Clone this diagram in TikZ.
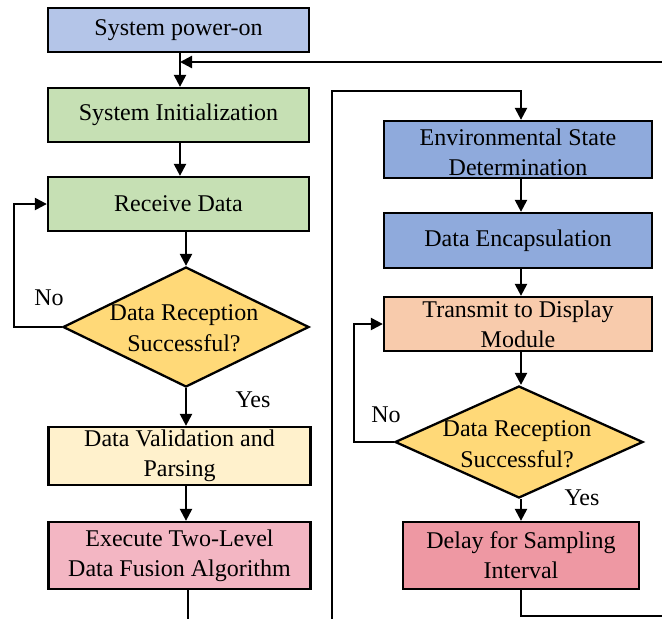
\documentclass[tikz,border=0pt]{standalone}
\usepackage{fontspec}
\setmainfont{Liberation Serif}
\usetikzlibrary{shapes.geometric,arrows.meta}

\definecolor{cPower}{HTML}{B4C5E8}
\definecolor{cGreen}{HTML}{C6E0B4}
\definecolor{cDecide}{HTML}{FFD978}
\definecolor{cCheck}{HTML}{FFF1CC}
\definecolor{cFuse}{HTML}{F3B6C3}
\definecolor{cEnv}{HTML}{8FAADC}
\definecolor{cSend}{HTML}{F8CBAC}
\definecolor{cDelay}{HTML}{EE98A3}

\tikzset{
  procbox/.style={draw=black, line width=2.3pt, rectangle, inner sep=0pt,
    align=center, font=\fontsize{24}{30}\selectfont},
  decision/.style={draw=black, line width=2.3pt, diamond, inner sep=0pt, fill=cDecide},
  dtext/.style={align=center, font=\fontsize{24}{31}\selectfont, inner sep=0pt},
  lbl/.style={font=\fontsize{24}{28}\selectfont, inner sep=0pt},
  flow/.style={line width=2.3pt, -{Triangle[length=12pt,width=12pt]}},
  wire/.style={line width=2.3pt}
}

\begin{document}
\begin{tikzpicture}[x=1pt,y=-1pt]
\useasboundingbox (0,0) rectangle (662,619);

% left column
\node[procbox, fill=cPower, minimum width=261pt, minimum height=44pt] (pw) at (178.5,30) {System power-on};
\node[procbox, fill=cGreen, minimum width=261pt, minimum height=54pt] (init) at (178.5,115) {System Initialization};
\node[procbox, fill=cGreen, minimum width=261pt, minimum height=54pt] (recv) at (178.5,204) {Receive Data};
\node[decision, minimum width=246pt, minimum height=120pt] (dec1) at (186,327) {};
\node[dtext] (dec1t) at (184,328) {Data Reception\\Successful?};
\node[procbox, fill=cCheck, minimum width=262pt, minimum height=58pt] (valid) at (179.5,456) {Data Validation and\\Parsing};
\node[procbox, fill=cFuse, minimum width=262pt, minimum height=67pt] (fuse) at (179.5,555.5) {Execute Two-Level\\Data Fusion Algorithm};

% right column
\node[procbox, fill=cEnv, minimum width=268pt, minimum height=57pt] (env) at (518,149.5) {};
\node[dtext, font=\fontsize{24}{30}\selectfont] (envt) at (518,152) {Environmental State\\Determination};
\node[procbox, fill=cEnv, minimum width=268pt, minimum height=55pt] (enc) at (518,240.5) {Data Encapsulation};
\node[procbox, fill=cSend, minimum width=268pt, minimum height=54pt] (send) at (518,324) {Transmit to Display\\Module};
\node[decision, minimum width=248pt, minimum height=112pt] (dec2) at (519,442) {};
\node[dtext] (dec2t) at (517,444) {Data Reception\\Successful?};
\node[procbox, fill=cDelay, minimum width=236pt, minimum height=67pt] (delay) at (521,555.5) {Delay for Sampling\\Interval};

% branch labels
\node[lbl] (no1) at (49,298) {No};
\node[lbl] (yes1) at (253,400) {Yes};
\node[lbl] (no2) at (386,415) {No};
\node[lbl] (yes2) at (582,498) {Yes};

% free ends of the loop-back lines
\coordinate (ret) at (662,62);
\coordinate (retend) at (180,62);
\coordinate (fuseout) at (188,619);
\coordinate (busin) at (332,619);
\coordinate (bustop) at (332,91);
\coordinate (delayout) at (662,616);

% main flow, left
\draw[flow] (pw.south -| retend) -- (init.north -| retend);
\draw[flow] (ret) -- (retend);
\draw[flow] (init.south -| retend) -- (recv.north -| retend);
\draw[flow] (recv.south -| dec1.north) -- (dec1.north);
\draw[flow] (dec1.west) -- ++(-48,0) |- (recv.west);
\draw[flow] (dec1.south) -- (valid.north -| dec1.south);
\draw[flow] (valid.south -| dec1.south) -- (fuse.north -| dec1.south);
\draw[wire] (fuse.south -| fuseout) -- (fuseout);

% main flow, right
\draw[flow] (busin) -- (bustop) -| (env.north -| delay.north);
\draw[flow] (env.south -| delay.north) -- (enc.north -| delay.north);
\draw[flow] (enc.south -| delay.north) -- (send.north -| delay.north);
\draw[flow] (send.south -| delay.north) -- (dec2.north -| delay.north);
\draw[flow] (dec2.west) -- ++(-40,0) |- (send.west);
\draw[flow] (dec2.south -| delay.north) -- (delay.north);
\draw[wire] (delay.south) |- (delayout);
\end{tikzpicture}
\end{document}
